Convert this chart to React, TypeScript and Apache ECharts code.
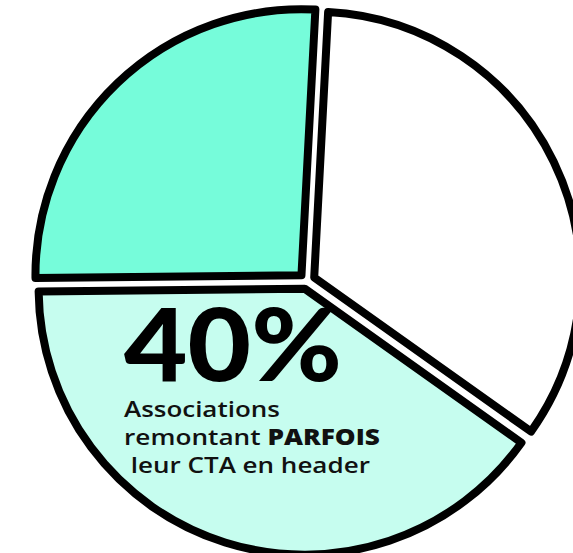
import React, { useEffect, useRef } from "react";
import * as echarts from "echarts";

const sliceNames = ["Jamais", "Parfois", "Toujours"];
const sliceValues = [34, 40, 26];
const sliceColors = ["#ffffff", "#c6fdef", "#76fcda"];

const bigLabel = "40%";
const line1 = "Associations";
const line2a = "remontant ";
const line2b = "PARFOIS";
const line3 = " leur CTA en header";

const BODY_FONT = '"Open Sans"';
const BIG_FONT = "Lato";

function measure(text: string, font: string): number {
  const c = document.createElement("canvas");
  const ctx = c.getContext("2d");
  if (!ctx) return text.length * 10;
  ctx.font = font;
  return ctx.measureText(text).width;
}

export default function App() {
  const ref = useRef<HTMLDivElement>(null);
  useEffect(() => {
    if (!ref.current) return;
    const chart = echarts.init(ref.current, undefined, { renderer: "svg" });

    const bigSize = 101;
    const bodySize = 22;
    const bigW = measure(bigLabel, `900 ${bigSize}px ${BIG_FONT}`);
    const w1 = measure(line1, `600 ${bodySize}px ${BODY_FONT}`);
    const w2 =
      measure(line2a, `600 ${bodySize}px ${BODY_FONT}`) +
      measure(line2b, `800 ${bodySize}px ${BODY_FONT}`);
    const w3 = measure(line3, `600 ${bodySize}px ${BODY_FONT}`);

    const data = sliceValues.map((v, i) => {
      const st = {
        color: sliceColors[i],
        borderColor: "#000000",
        borderWidth: 8,
        borderJoin: "round",
      };
      return {
        name: sliceNames[i],
        value: v,
        selected: true,
        itemStyle: st,
        select: { itemStyle: st },
      };
    });

    chart.setOption({
      animation: false,
      backgroundColor: "#ffffff",
      series: [
        {
          type: "pie",
          center: [307, 281],
          radius: 266,
          startAngle: 87,
          clockwise: true,
          selectedMode: "multiple",
          selectedOffset: 8,
          avoidLabelOverlap: false,
          label: { show: false },
          labelLine: { show: false },
          emphasis: { disabled: true },
          data,
        },
      ],
      graphic: [
        {
          type: "text",
          x: 124,
          y: 342,
          z: 100,
          scaleX: 218 / bigW,
          style: {
            text: bigLabel,
            fontFamily: BIG_FONT,
            fontWeight: 900,
            fontSize: bigSize,
            fill: "#000000",
            align: "left",
            verticalAlign: "middle",
          },
        },
        {
          type: "text",
          x: 124,
          y: 408,
          z: 100,
          scaleX: 156 / w1,
          style: {
            text: line1,
            fontFamily: BODY_FONT,
            fontWeight: 600,
            fontSize: bodySize,
            fill: "#111111",
            align: "left",
            verticalAlign: "middle",
          },
        },
        {
          type: "text",
          x: 124,
          y: 436,
          z: 100,
          scaleX: 256 / w2,
          style: {
            text: `{n|${line2a}}{b|${line2b}}`,
            fill: "#111111",
            align: "left",
            verticalAlign: "middle",
            rich: {
              n: { fontFamily: BODY_FONT, fontSize: bodySize, fontWeight: 600, fill: "#111111" },
              b: { fontFamily: BODY_FONT, fontSize: bodySize, fontWeight: 800, fill: "#111111" },
            },
          },
        },
        {
          type: "text",
          x: 124,
          y: 464,
          z: 100,
          scaleX: 246 / w3,
          style: {
            text: line3,
            fontFamily: BODY_FONT,
            fontWeight: 600,
            fontSize: bodySize,
            fill: "#111111",
            align: "left",
            verticalAlign: "middle",
          },
        },
      ],
    });
    return () => chart.dispose();
  }, []);

  return (
    <div
      ref={ref}
      style={{ position: "fixed", left: 0, top: 0, width: 573, height: 553 }}
    />
  );
}
